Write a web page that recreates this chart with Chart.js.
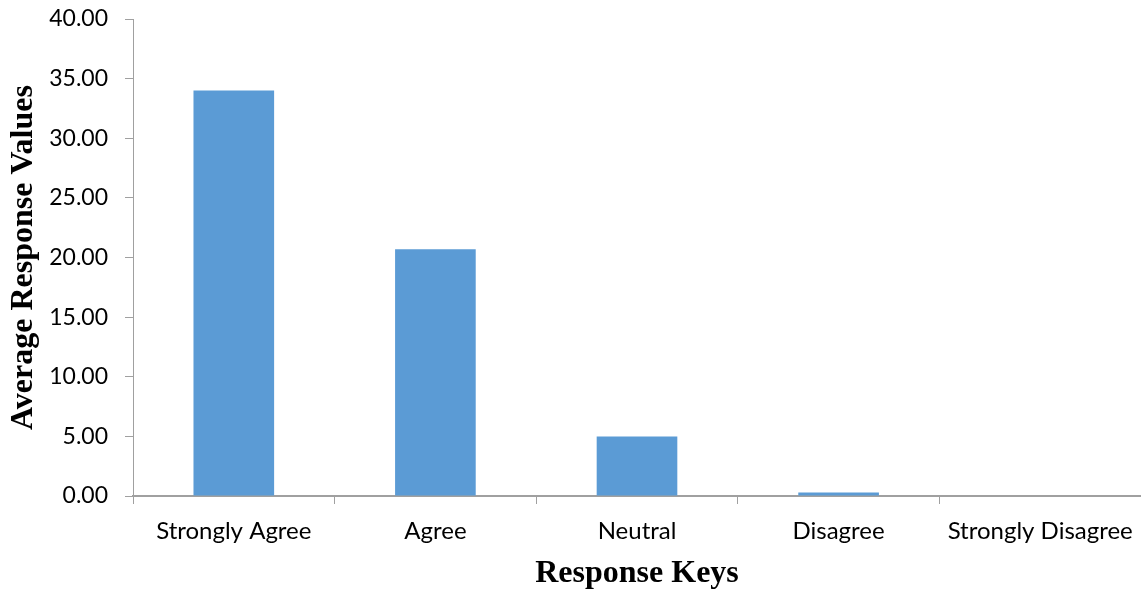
<!DOCTYPE html>
<html>
<head>
<meta charset="utf-8">
<script src="https://cdn.jsdelivr.net/npm/chart.js@4/dist/chart.umd.min.js"></script>
<style>
  html, body { margin: 0; padding: 0; background: #ffffff; }
  #wrap { width: 1141px; height: 590px; position: relative; }
</style>
</head>
<body>
<div id="wrap"><canvas id="chart"></canvas></div>
<script>
// Response categories and their average values
const categories = ['Strongly Agree', 'Agree', 'Neutral', 'Disagree', 'Strongly Disagree'];
const averageValues = [34.0, 20.7, 5.0, 0.3, 0.0];
const yTickValues = [0, 5, 10, 15, 20, 25, 30, 35, 40];

const axisGrey = '#a0a0a0';
const yTickFont = { family: 'Lato', size: 23 };
const xTickFont = { family: 'Lato', size: 24 };
const titleFont = { family: 'Liberation Serif', size: 32, weight: 'bold', lineHeight: 1 };

new Chart(document.getElementById('chart'), {
  type: 'bar',
  data: {
    labels: categories,
    datasets: [{
      data: averageValues,
      backgroundColor: '#5b9bd5',
      borderWidth: 0,
      barPercentage: 0.4,
      categoryPercentage: 1.0
    }]
  },
  options: {
    responsive: true,
    maintainAspectRatio: false,
    animation: false,
    layout: { padding: { top: 19, right: 0, left: 0, bottom: 0 } },
    plugins: { legend: { display: false }, tooltip: { enabled: false } },
    scales: {
      x: {
        offset: true,
        grid: { offset: true, drawOnChartArea: false, drawTicks: true, tickLength: 8, color: axisGrey },
        border: { display: true, color: axisGrey, width: 2 },
        ticks: { color: '#000000', font: xTickFont, padding: 13, maxRotation: 0, autoSkip: false },
        title: { display: true, text: 'Response Keys', color: '#000000', font: titleFont, padding: { top: 0, bottom: 0 } },
        afterFit: (scale) => { scale.height = 94; scale.paddingLeft = 0; scale.paddingRight = 0; }
      },
      y: {
        min: 0,
        max: 40,
        afterBuildTicks: (scale) => { scale.ticks = yTickValues.map(v => ({ value: v })); },
        grid: { drawOnChartArea: false, drawTicks: true, tickLength: 8, color: axisGrey },
        border: { display: true, color: axisGrey, width: 1 },
        ticks: { color: '#000000', font: yTickFont, padding: 17, callback: (v) => Number(v).toFixed(2) },
        title: { display: true, text: 'Average Response Values', color: '#000000', font: titleFont, padding: { top: 8, bottom: 0 } },
        afterFit: (scale) => { scale.width = 133; scale.paddingTop = 0; scale.paddingBottom = 0; }
      }
    }
  }
});
</script>
</body>
</html>
